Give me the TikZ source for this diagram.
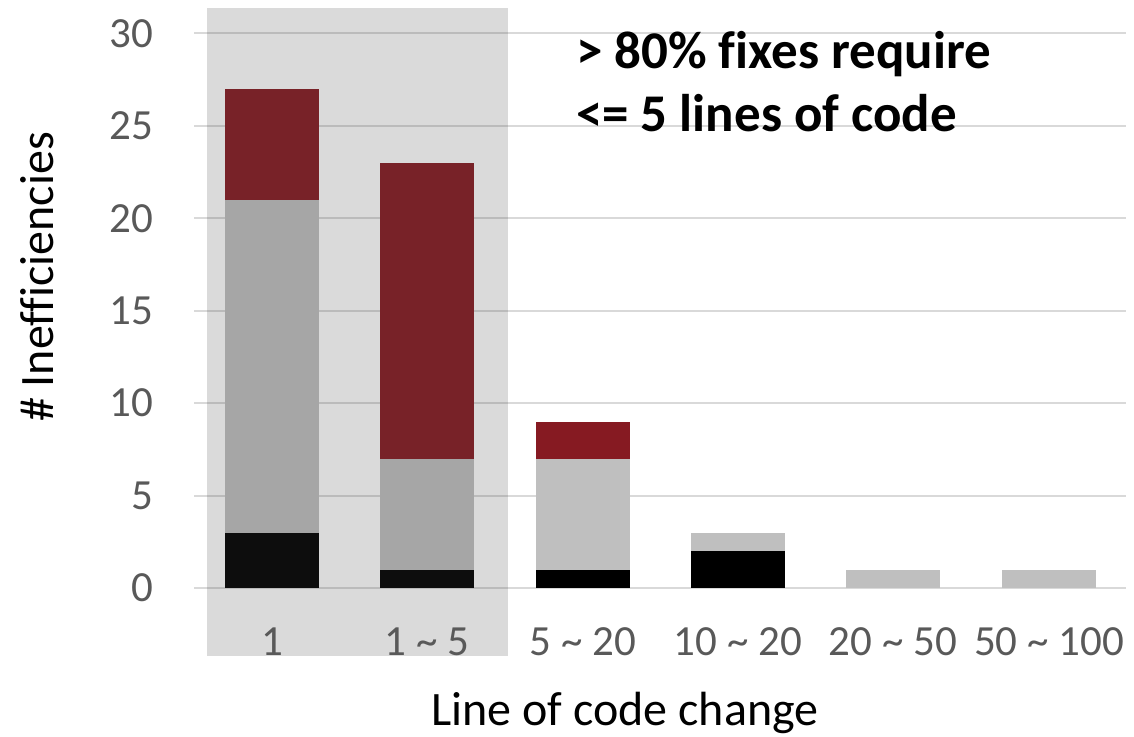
\documentclass[tikz,border=0pt]{standalone}
\usepackage{fontspec}
\setmainfont{Carlito}[Ligatures=NoCommon]
\definecolor{fixred}{HTML}{861A22}
\definecolor{fixgray}{HTML}{BFBFBF}
\definecolor{fixblack}{HTML}{000000}
\definecolor{ticktext}{HTML}{595959}
\definecolor{gridcol}{HTML}{D9D9D9}
\definecolor{shadecol}{HTML}{444444}
\tikzset{
  gridline/.style={draw=gridcol, line width=2pt},
  ticklabel/.style={text=ticktext, inner sep=0pt, font=\fontsize{43}{52}\selectfont},
  axistitle/.style={text=black, inner sep=0pt, font=\fontsize{48}{58}\selectfont},
  callout/.style={text=black, inner sep=0pt, font=\fontsize{53}{64}\selectfont\bfseries},
  shade/.style={fill=shadecol, fill opacity=0.2},
}
% value v sits at pixel row 588 - 18.49 v
\newcommand{\yv}[1]{588-18.49*(#1)}
\begin{document}
\begin{tikzpicture}[x=1pt,y=-1pt]
\useasboundingbox (0,0) rectangle (1134,736);
% horizontal gridlines
\foreach \v in {0,5,...,30}
  \draw[gridline] (194,{\yv{\v}}) -- (1126,{\yv{\v}});
% stacked bars: centre / bottom / top / colour
\foreach \cx/\a/\b/\col in {
  272/0/3/fixblack, 272/3/21/fixgray, 272/21/27/fixred,
  427/0/1/fixblack, 427/1/7/fixgray, 427/7/23/fixred,
  583/0/1/fixblack, 583/1/7/fixgray, 583/7/9/fixred,
  738/0/2/fixblack, 738/2/3/fixgray,
  893/0/1/fixgray,
  1049/0/1/fixgray}
  \fill[\col] (\cx-47,{\yv{\a}}) rectangle (\cx+47,{\yv{\b}});
% highlighted region over the first two categories
\fill[shade] (207,8) rectangle (508,656);
% y tick labels
\foreach \v in {0,5,...,30}
  \node[ticklabel, anchor=east] (yt\v) at (153,{\yv{\v}}) {\v};
% x category labels
\foreach \cx/\lab [count=\i] in {272/1, 427/{1 \char`\~{} 5}, 583/{5 \char`\~{} 20},
  738/{10 \char`\~{} 20}, 893/{20 \char`\~{} 50}, 1049/{50 \char`\~{} 100}}
  \node[ticklabel, anchor=base] (xt\i) at (\cx,655) {\lab};
% axis titles
\node[axistitle, anchor=base] (xtitle) at (625,725) {Line of code change};
\node[axistitle, anchor=base, rotate=90] (ytitle) at (53,277) {\# Inefficiencies};
% callout text
\node[callout, anchor=base west] (note1) at (576,68) {> 80\% fixes require};
\node[callout, anchor=base west] (note2) at (576,131) {<= 5 lines of code};
\end{tikzpicture}
\end{document}
